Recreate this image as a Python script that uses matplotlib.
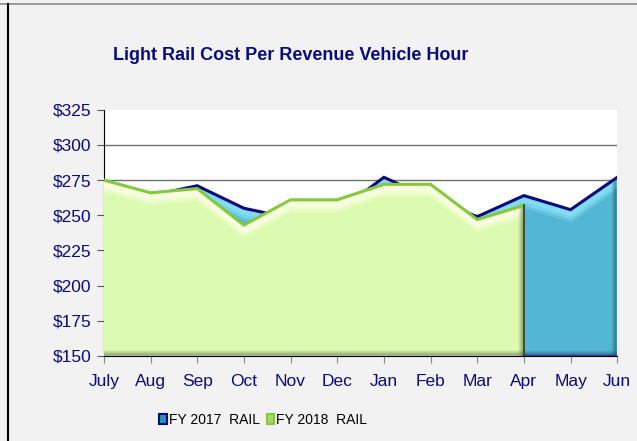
import matplotlib
matplotlib.use("Agg")
import matplotlib.pyplot as plt
import matplotlib.transforms as mtransforms
from matplotlib.lines import Line2D
from matplotlib.patches import Polygon, Patch
import numpy as np

months = ["July", "Aug", "Sep", "Oct", "Nov", "Dec", "Jan", "Feb", "Mar", "Apr", "May", "Jun"]
fy2017 = [274, 264, 271, 255, 248, 252, 277, 262, 249, 264, 254, 277]
fy2018 = [275, 266, 269, 243, 261, 261, 272, 272, 247, 257]
series_names = ["FY 2017  RAIL", "FY 2018  RAIL"]
yticks = [150, 175, 200, 225, 250, 275, 300, 325]
ymin = 150

NAVY = "#0a0a80"
FONT = ["Liberation Sans Narrow", "Liberation Sans", "DejaVu Sans"]


################################################################################
def bevel_area(ax, x, y, fill, edge, light, dark, z) :
    """Area with an edge line and a shaded highlight band below it."""
    verts = [(x[0], ymin)] + list(zip(x, y)) + [(x[-1], ymin)]
    poly = Polygon(verts, closed=True, facecolor=fill, edgecolor="none", zorder=z)
    ax.add_patch(poly)
    for k, (off, a) in enumerate([(-4, 0.9), (-7, 0.6), (-10, 0.3)]) :
        down = mtransforms.offset_copy(ax.transData, fig=ax.figure, x=0, y=off, units="dots")
        hl, = ax.plot(x, y, color=light, lw=3.5, alpha=a, zorder=z + 0.1, transform=down,
                      solid_joinstyle="miter")
        hl.set_clip_path(poly)
    # bottom and right side shading
    for i, a in enumerate(np.linspace(0.05, 0.35, 5)) :
        b, = ax.plot([x[0], x[-1]], [ymin, ymin], color=dark, alpha=a, lw=1.2,
                     zorder=z + 0.2,
                     transform=mtransforms.offset_copy(ax.transData, fig=ax.figure,
                                                       x=0, y=5 - i, units="dots"))
        b.set_clip_path(poly)
        r, = ax.plot([x[-1], x[-1]], [ymin, y[-1]], color=dark, alpha=a, lw=1.2,
                     zorder=z + 0.2,
                     transform=mtransforms.offset_copy(ax.transData, fig=ax.figure,
                                                       x=-5 + i, y=0, units="dots"))
        r.set_clip_path(poly)
    ax.plot(x, y, color=edge, lw=2.2, zorder=z + 0.3, solid_joinstyle="miter")
    return poly


fig = plt.figure(figsize=(6.37, 4.41), dpi=100, facecolor="#f2f2f2")
ax = fig.add_axes([0.163, 0.193, 0.806, 0.558])
ax.set_facecolor("white")

x17 = np.arange(len(fy2017))
x18 = np.arange(len(fy2018))

bevel_area(ax, x17, fy2017, "#53b7d4", NAVY, "#86e0f6", "#16404e", 2)
ax.plot([x17[len(fy2018) - 1], x17[-1]], [ymin, ymin],
        color="#3a3aa8", lw=2.5, zorder=2.4)
bevel_area(ax, x18, fy2018, "#dcfbb0", "#86c83e", "#fbffe4", "#4b5535", 3)
ax.plot([x18[-1], x18[-1]], [ymin, fy2018[-1]], color="#303a20", lw=1.2, zorder=3.5)

ax.set_xlim(0, len(months) - 1)
ax.set_ylim(ymin, 325)
ax.set_yticks(yticks)
ax.set_yticklabels(["$%d" % v for v in yticks])
ax.set_xticks(x17)
ax.set_xticklabels(months)
for v in yticks[1:-1] :
    ax.axhline(v, color="#707070", lw=1.0, zorder=1)

for s in ["top", "right"] :
    ax.spines[s].set_visible(False)
ax.spines["left"].set_color("black")
ax.spines["bottom"].set_color("black")
ax.spines["bottom"].set_zorder(5)
ax.tick_params(axis="y", length=5, color="#555555", labelsize=12.5, labelcolor=NAVY, pad=4)
ax.tick_params(axis="x", length=5, color="#888888", labelsize=12.5, labelcolor=NAVY, pad=8)
for lab in ax.get_xticklabels() + ax.get_yticklabels() :
    lab.set_family(FONT)

fig.text(0.457, 0.875, "Light Rail Cost Per Revenue Vehicle Hour", ha="center", va="center",
         fontsize=13, fontweight="bold", color=NAVY, family=FONT)

handles = [Patch(facecolor="#2f8fb0", edgecolor=NAVY, lw=1.5),
           Patch(facecolor="#a6d86a", edgecolor="#86c83e", lw=1.5)]
fig.legend(handles, series_names, loc="center", bbox_to_anchor=(0.413, 0.048), ncol=2,
           frameon=False, handlelength=0.55, handleheight=0.8, handletextpad=0.15,
           columnspacing=0.5, prop={"family": FONT, "size": 10})

# chart frame
fig.add_artist(Line2D([0.0, 1.0], [0.991, 0.991], color="#8a8a8a", lw=1.2))
fig.add_artist(Line2D([0.0125, 0.0125], [0.0, 0.991], color="black", lw=1.5))

plt.savefig("out.png", dpi=100, facecolor=fig.get_facecolor())
